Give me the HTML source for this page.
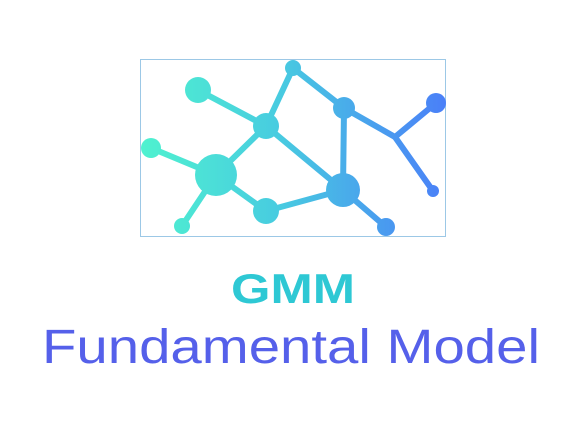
<!DOCTYPE html>
<html><head><style>
html,body{margin:0;padding:0;background:#fff;width:570px;height:438px;overflow:hidden}
</style></head><body>
<svg width="570" height="438" viewBox="0 0 570 438" xmlns="http://www.w3.org/2000/svg">
<defs>
<linearGradient id="g" gradientUnits="userSpaceOnUse" x1="140" y1="0" x2="446" y2="0">
<stop offset="0" stop-color="#4ff2cf"/>
<stop offset="0.45" stop-color="#48cce0"/>
<stop offset="1" stop-color="#4a7ff8"/>
</linearGradient>
</defs>
<rect x="140.5" y="59.5" width="305" height="177" fill="none" stroke="#9cc8e6" stroke-width="1"/>
<g stroke="url(#g)" stroke-width="6" stroke-linecap="round" fill="none">
<line x1="198" y1="90" x2="266" y2="126"/>
<line x1="293" y1="68" x2="266" y2="126"/>
<line x1="293" y1="68" x2="344" y2="108"/>
<line x1="344" y1="108" x2="343" y2="190"/>
<line x1="344" y1="108" x2="395" y2="137"/>
<line x1="395" y1="137" x2="436" y2="103"/>
<line x1="395" y1="137" x2="433" y2="191"/>
<line x1="266" y1="126" x2="216" y2="175"/>
<line x1="266" y1="126" x2="343" y2="190"/>
<line x1="151" y1="148" x2="216" y2="175"/>
<line x1="216" y1="175" x2="182" y2="226"/>
<line x1="216" y1="175" x2="266" y2="211"/>
<line x1="266" y1="211" x2="343" y2="190"/>
<line x1="343" y1="190" x2="386" y2="227"/>
</g>
<g fill="url(#g)">
<circle cx="198" cy="90" r="13"/>
<circle cx="293" cy="68" r="8"/>
<circle cx="344" cy="108" r="11"/>
<circle cx="436" cy="103" r="10"/>
<circle cx="266" cy="126" r="13"/>
<circle cx="151" cy="148" r="10"/>
<circle cx="216" cy="175" r="21"/>
<circle cx="433" cy="191" r="6"/>
<circle cx="343" cy="190" r="17"/>
<circle cx="266" cy="211" r="13"/>
<circle cx="182" cy="226" r="8"/>
<circle cx="386" cy="227" r="9"/>
</g>
<text x="231" y="303" textLength="124" lengthAdjust="spacingAndGlyphs" font-family="Liberation Sans, sans-serif" font-weight="bold" font-size="42" fill="#2ec8d4">GMM</text>
<text x="42" y="363" textLength="498" lengthAdjust="spacingAndGlyphs" font-family="Liberation Sans, sans-serif" font-size="48" fill="#5560ea">Fundamental Model</text>
</svg>
</body></html>
